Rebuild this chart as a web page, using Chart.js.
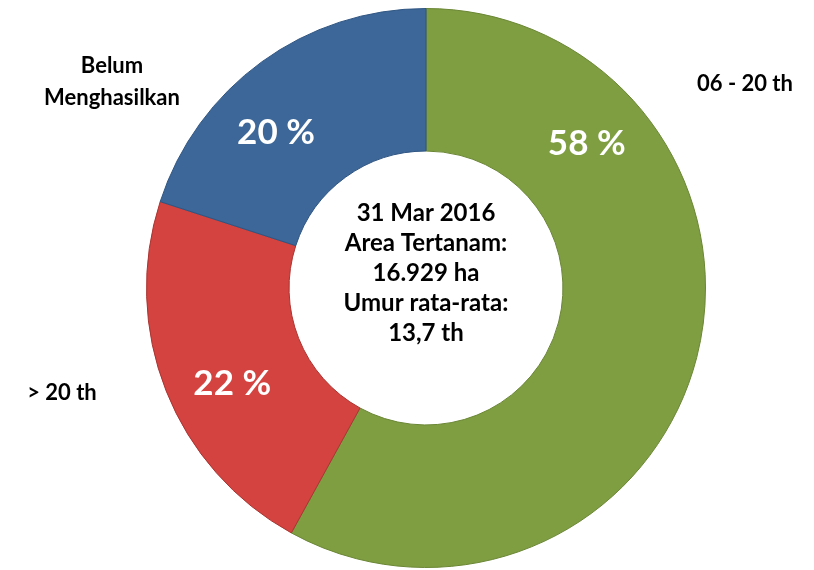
<!DOCTYPE html>
<html>
<head>
<meta charset="utf-8">
<script src="https://cdn.jsdelivr.net/npm/chart.js@4"></script>
<style>
  html, body { margin: 0; padding: 0; background: #fff; }
  #wrap { width: 814px; height: 570px; position: relative; }
</style>
</head>
<body>
<div id="wrap"><canvas id="ageChart"></canvas></div>
<script>
// age groups, clockwise from 12 o'clock
var categories = ['06 - 20 th', '> 20 th', 'Belum Menghasilkan'];
var shares = [58, 22, 20];
var sliceColors = ['#7F9E42', '#D4433F', '#3C6798'];
var edgeColors = ['#6A8634', '#A83532', '#2F5582'];
var centerLines = ['31 Mar 2016', 'Area Tertanam:', '16.929 ha', 'Umur rata-rata:', '13,7 th'];

var FONT = 'Lato, "Open Sans", sans-serif';

// percent labels + category names + centre text
var labelPlugin = {
    id: 'labelPlugin',
    afterDatasetsDraw: function (chart) {
        var c = chart.ctx;
        var arcs = chart.getDatasetMeta(0).data;
        var along = [0.23, 0.44, 0.39];
        c.save();
        c.textAlign = 'center';
        c.textBaseline = 'middle';

        arcs.forEach(function (arc, i) {
            var p = arc.getProps(['x', 'y', 'startAngle', 'endAngle', 'innerRadius', 'outerRadius'], true);
            var a = p.startAngle + (p.endAngle - p.startAngle) * along[i];
            var r = (p.innerRadius + p.outerRadius) / 2 + 8;
            c.fillStyle = '#fff';
            c.font = 'bold 35px ' + FONT;
            c.fillText(shares[i] + ' %', p.x + Math.cos(a) * r, p.y + Math.sin(a) * r);
        });

        var cx = arcs[0].x, cy = arcs[0].y;
        c.fillStyle = '#000';
        c.font = 'bold 24px ' + FONT;
        centerLines.forEach(function (t, i) {
            c.fillText(t, cx, cy - 75 + i * 30);
        });

        c.font = 'bold 22px ' + FONT;
        c.fillText('06 - 20 th', 745, 84);
        c.fillText('> 20 th', 62, 393);
        c.fillText('Belum', 112, 66);
        c.fillText('Menghasilkan', 112, 98);
        c.restore();
    }
};

new Chart(document.getElementById('ageChart'), {
    type: 'doughnut',
    data: {
        labels: categories,
        datasets: [{
            data: shares,
            backgroundColor: sliceColors,
            borderColor: edgeColors,
            borderWidth: 1
        }]
    },
    options: {
        responsive: true,
        maintainAspectRatio: false,
        animation: false,
        cutout: '49%',
        layout: { padding: { top: 8, bottom: 2, left: 38, right: 0 } },
        plugins: {
            legend: { display: false },
            tooltip: { enabled: false }
        }
    },
    plugins: [labelPlugin]
});
</script>
</body>
</html>
